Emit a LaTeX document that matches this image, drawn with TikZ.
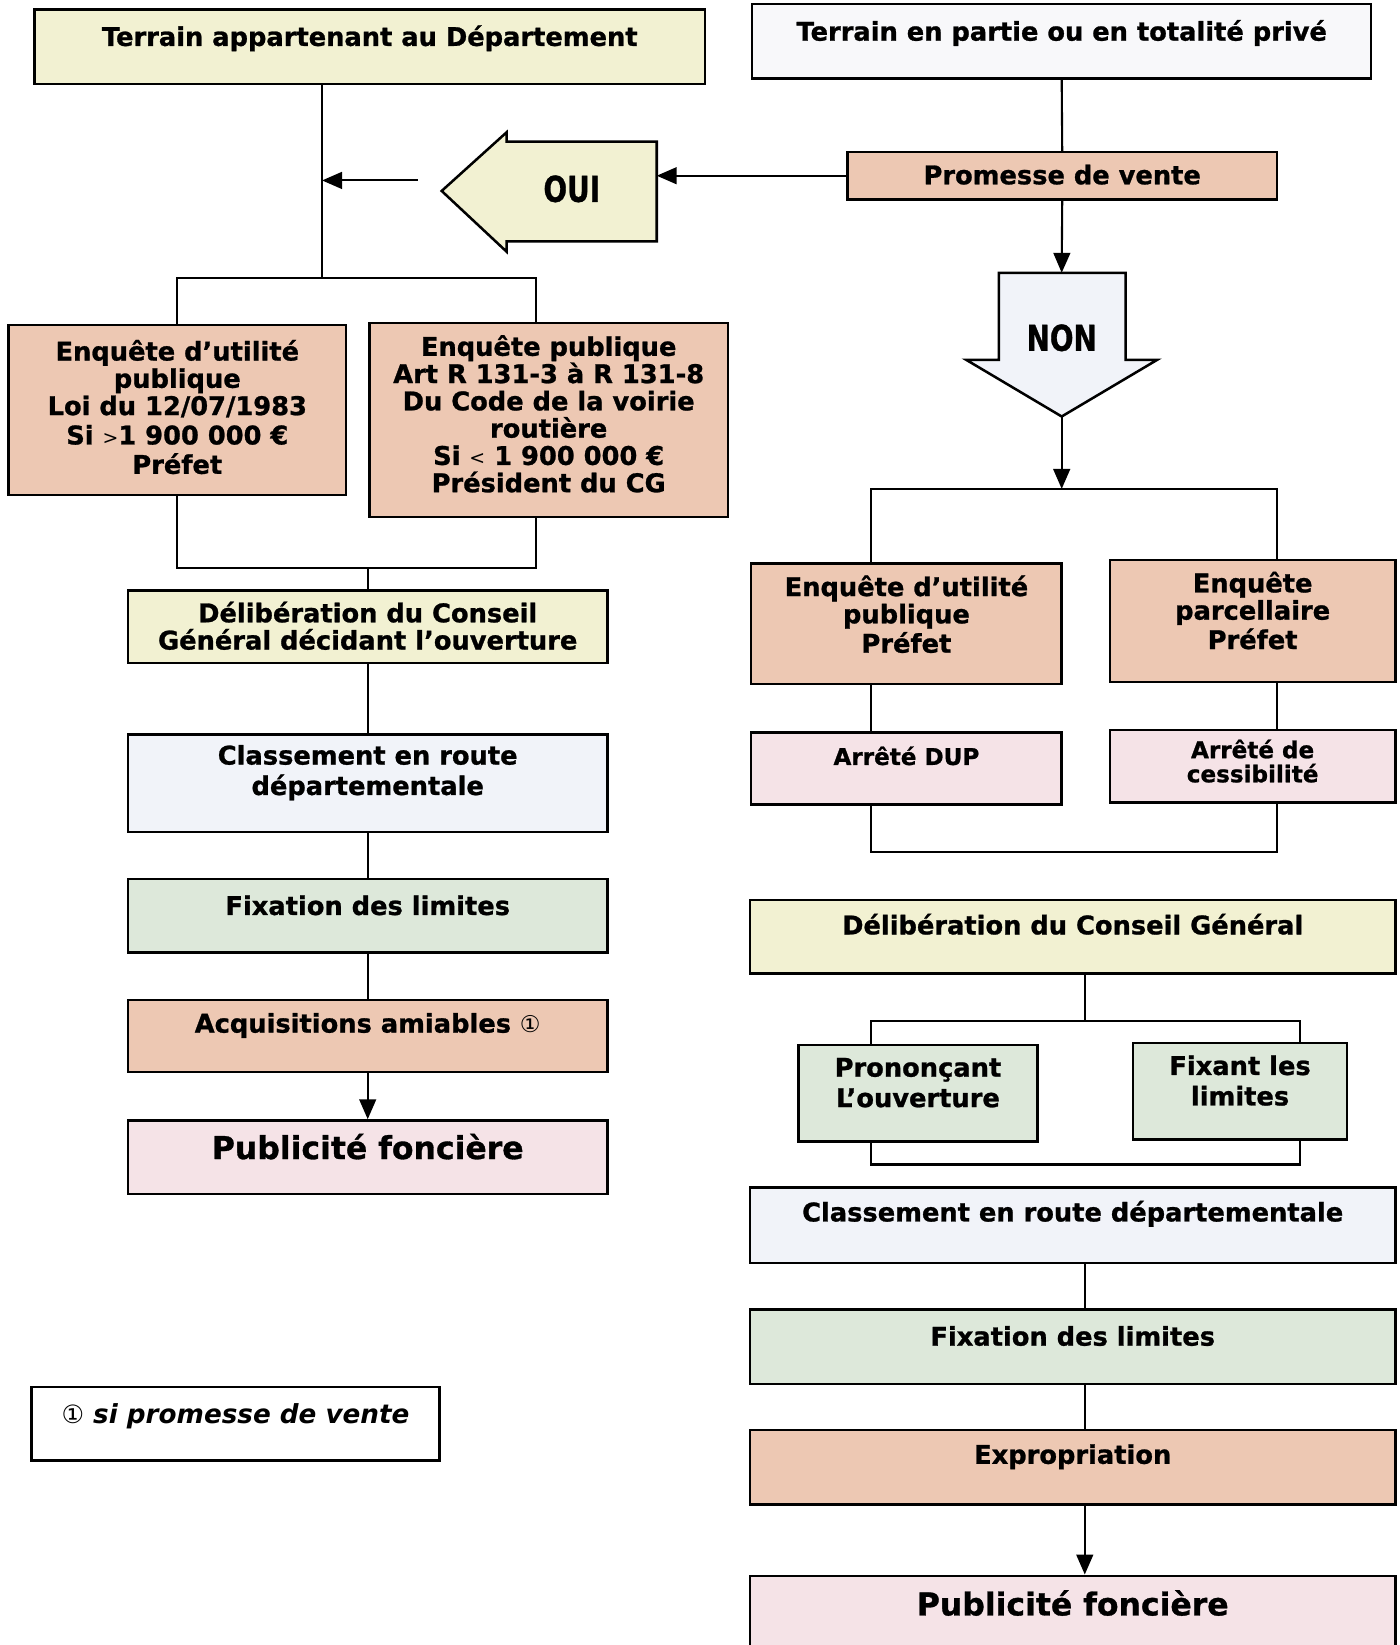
\documentclass[tikz,border=0pt]{standalone}
\usepackage{fontspec}
\usepackage{graphicx}
\setmainfont{DejaVu Sans}[BoldFeatures={FakeBold=1}]
\usetikzlibrary{arrows.meta}
\definecolor{creme}{HTML}{F2F1D2}
\definecolor{peche}{HTML}{EDC8B3}
\definecolor{rose}{HTML}{F5E3E7}
\definecolor{vert}{HTML}{DDE8DA}
\definecolor{bleute}{HTML}{F1F3F9}
\definecolor{blanc}{HTML}{F8F8FA}

\begin{document}
\begin{tikzpicture}[x=1pt, y=-1pt,
  boite/.style={draw, line width=2.4pt, inner sep=0pt},
  txt/.style={align=center, inner sep=0pt, font=\bfseries\fontsize{24.5}{26}\selectfont},
  petit/.style={txt, font=\bfseries\fontsize{22}{23}\selectfont},
  grand/.style={txt, font=\bfseries\fontsize{30}{32}\selectfont},
  lien/.style={line width=2pt},
  fleche/.style={line width=2pt, -{Triangle[length=19pt, width=16pt]}}]
\useasboundingbox (0,0) rectangle (1334,1568);
%Terrain du Departement
\node[boite, fill=creme, minimum width=639pt, minimum height=71pt] (dep) at (352.5,44.5) {};
\node[boite, fill=peche, minimum width=322pt, minimum height=162pt] (enq1) at (169,391) {};
\node[boite, fill=peche, minimum width=342pt, minimum height=185pt] (enq2) at (523,400.5) {};
\node[boite, fill=creme, minimum width=457pt, minimum height=69pt] (delib1) at (350.5,597.5) {};
\node[boite, fill=bleute, minimum width=457pt, minimum height=93pt] (classe1) at (350.5,746.5) {};
\node[boite, fill=vert, minimum width=457pt, minimum height=70pt] (fix1) at (350.5,873) {};
\node[boite, fill=peche, minimum width=457pt, minimum height=69pt] (acq) at (350.5,987.5) {};
\node[boite, fill=rose, minimum width=457pt, minimum height=70pt] (pub1) at (350.5,1103) {};
\node[boite, fill=white, minimum width=389pt, minimum height=70pt] (note) at (224.5,1357) {};
%Terrain prive
\node[boite, fill=blanc, minimum width=590pt, minimum height=71pt] (priv) at (1012,39.5) {};
\node[boite, fill=peche, minimum width=409pt, minimum height=45pt] (prom) at (1012.5,167.5) {};
\node[boite, fill=peche, minimum width=296pt, minimum height=115pt] (eup) at (864,594.5) {};
\node[boite, fill=peche, minimum width=272pt, minimum height=116pt] (parc) at (1194,592) {};
\node[boite, fill=rose, minimum width=296pt, minimum height=69pt] (dup) at (864,732.5) {};
\node[boite, fill=rose, minimum width=272pt, minimum height=69pt] (ces) at (1194,730.5) {};
\node[boite, fill=creme, minimum width=615pt, minimum height=70pt] (delib2) at (1022.5,893) {};
\node[boite, fill=vert, minimum width=228pt, minimum height=92pt] (pron) at (875,1042) {};
\node[boite, fill=vert, minimum width=204pt, minimum height=92pt] (fixant) at (1182,1040) {};
\node[boite, fill=bleute, minimum width=615pt, minimum height=72pt] (classe2) at (1022.5,1168) {};
\node[boite, fill=vert, minimum width=615pt, minimum height=71pt] (fix2) at (1022.5,1283.5) {};
\node[boite, fill=peche, minimum width=615pt, minimum height=71pt] (expro) at (1022.5,1398.5) {};
\node[boite, fill=rose, minimum width=615pt, minimum height=90pt] (pub2) at (1022.5,1547) {};
%OUI / NON
\filldraw[fill=creme, line width=2.4pt] (421,182) -- (483,126) -- (483,135) -- (626,135) -- (626,230) -- (483,230) -- (483,240) -- cycle;
\filldraw[fill=bleute, line width=2.4pt] (952,260) -- (1073,260) -- (1073,343) -- (1103,343) -- (1012,397) -- (921,343) -- (952,343) -- cycle;
\coordinate (oui-dos) at (626,170);
\coordinate (oui-sortie) at (398,172);
\coordinate (non-haut) at (1012,260);
\coordinate (non-pointe) at (1012,397);
%textes
\node[txt] (dep-t) at ([yshift=8pt]dep.center) {Terrain appartenant au Département};
\node[txt] (oui) at (545,180) {\fontsize{34}{34}\selectfont\scalebox{0.78}[1]{OUI}};
\node[txt] (enq1-t) at ([yshift=3pt]enq1.center) {Enquête d’utilité\\publique\\Loi du 12/07/1983\\[2pt]Si {\mdseries\fontsize{18}{18}\selectfont>}1 900 000 €\\[2pt]Préfet};
\node[txt] (enq2-t) at ([yshift=6pt]enq2.center) {Enquête publique\\Art R 131-3 à R 131-8\\Du Code de la voirie\\routière\\Si {\mdseries\fontsize{18}{18}\selectfont<} 1 900 000 €\\Président du CG};
\node[txt] (delib1-t) at ([yshift=1pt]delib1.center) {Délibération du Conseil\\Général décidant l’ouverture};
\node[txt] (classe1-t) at ([yshift=10pt]classe1.center) {Classement en route\\[3pt]départementale};
\node[txt] (fix1-t) at ([yshift=10pt]fix1.center) {Fixation des limites};
\node[txt] (acq-t) at ([yshift=10pt]acq.center) {Acquisitions amiables {\mdseries\fontsize{22}{22}\selectfont ①}};
\node[grand] (pub1-t) at ([yshift=10pt]pub1.center) {Publicité foncière};
\node[txt, font=\bfseries\itshape\fontsize{25}{26}\selectfont] (note-t) at ([yshift=7pt]note.center) {{\mdseries\upshape\fontsize{24}{24}\selectfont ①} si promesse de vente};
\node[txt] (priv-t) at ([yshift=8pt]priv.center) {Terrain en partie ou en totalité privé};
\node[txt] (prom-t) at ([yshift=1pt]prom.center) {Promesse de vente};
\node[txt] (non) at (1012,322) {\fontsize{34}{34}\selectfont\scalebox{0.78}[1]{NON}};
\node[txt] (eup-t) at ([yshift=9pt]eup.center) {Enquête d’utilité\\publique\\[2pt]Préfet};
\node[txt] (parc-t) at ([yshift=10pt]parc.center) {Enquête\\parcellaire\\[2pt]Préfet};
\node[petit] (dup-t) at ([yshift=12pt]dup.center) {Arrêté DUP};
\node[petit] (ces-t) at ([yshift=5pt]ces.center) {Arrêté de\\cessibilité};
\node[txt] (delib2-t) at ([yshift=12pt]delib2.center) {Délibération du Conseil Général};
\node[txt] (pron-t) at ([yshift=10pt]pron.center) {Prononçant\\[3pt]L’ouverture};
\node[txt] (fixant-t) at ([yshift=10pt]fixant.center) {Fixant les\\[3pt]limites};
\node[txt] (classe2-t) at ([yshift=11pt]classe2.center) {Classement en route départementale};
\node[txt] (fix2-t) at ([yshift=10pt]fix2.center) {Fixation des limites};
\node[txt] (expro-t) at ([yshift=10pt]expro.center) {Expropriation};
\node[grand] (pub2-t) at (1022.5,1528) {Publicité foncière};
%liaisons gauche
\coordinate (gA) at (307,265);
\coordinate (gB) at (511,265);
\coordinate (gC) at (511,541);
\coordinate (gD) at (351,541);
\draw[lien] (dep.south -| gA) -- (gA);
\draw[lien] (enq1.north) |- (gB) -- (gB |- enq2.north);
\draw[lien] (enq1.south) |- (gC) -- (gC |- enq2.south);
\draw[lien] (gD) -- (gD |- delib1.north);
\draw[lien] (delib1.south) -- (classe1.north);
\draw[lien] (classe1.south) -- (fix1.north);
\draw[lien] (fix1.south) -- (acq.north);
\draw[fleche] (acq.south) -- (pub1.north);
\draw[fleche] (oui-sortie) -- (oui-sortie -| gA);
%liaisons droite
\draw[lien] (priv.south) -- (prom.north);
\draw[fleche] (prom.west) -- (prom.west -| oui-dos);
\draw[fleche] (prom.south) -- (non-haut);
\coordinate (gE) at (1012,466);
\coordinate (gE1) at (830,466);
\coordinate (gE2) at (1217,466);
\draw[fleche] (non-pointe) -- (gE);
\draw[lien] (gE1 |- eup.north) -- (gE1) -- (gE2) -- (gE2 |- parc.north);
\draw[lien] (gE1 |- eup.south) -- (gE1 |- dup.north);
\draw[lien] (gE2 |- parc.south) -- (gE2 |- ces.north);
\coordinate (gF1) at (830,812);
\coordinate (gF2) at (1217,812);
\draw[lien] (gF1 |- dup.south) -- (gF1) -- (gF2) -- (gF2 |- ces.south);
\coordinate (gG) at (1034,973);
\coordinate (gG1) at (830,973);
\coordinate (gG2) at (1239,973);
\draw[lien] (gG |- delib2.south) -- (gG);
\draw[lien] (gG1 |- pron.north) -- (gG1) -- (gG2) -- (gG2 |- fixant.north);
\coordinate (gH1) at (830,1110);
\coordinate (gH2) at (1239,1110);
\draw[lien] (gH1 |- pron.south) -- (gH1) -- (gH2) -- (gH2 |- fixant.south);
\draw[lien] (gG |- classe2.south) -- (gG |- fix2.north);
\draw[lien] (gG |- fix2.south) -- (gG |- expro.north);
\draw[fleche] (gG |- expro.south) -- (gG |- pub2.north);
\end{tikzpicture}
\end{document}
